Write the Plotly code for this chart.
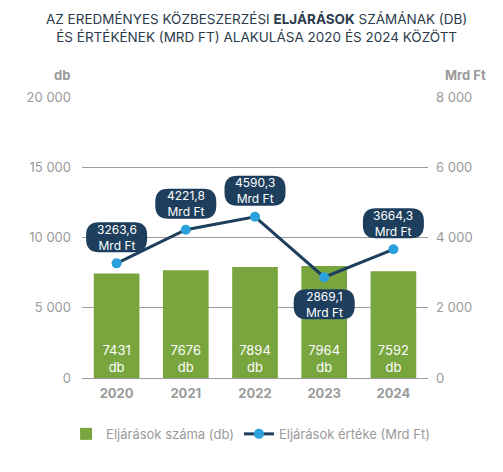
import plotly.graph_objects as go

years = [2020, 2021, 2022, 2023, 2024]
counts = [7431, 7676, 7894, 7964, 7592]
values = [3263.6, 4221.8, 4590.3, 2869.1, 3664.3]
label_side = ["above", "above", "above", "below", "above"]

navy = "#1d3e5c"
green = "#78a53e"
blue = "#2aa0dc"
grey = "#9a9a9a"
font = "Inter, Roboto, Arial, sans-serif"


def pill(w, h, r, cy):
    # rounded rectangle in pixels, centred horizontally, vertical centre at cy
    x0, x1 = -w / 2, w / 2
    y0, y1 = cy - h / 2, cy + h / 2
    return (
        f"M{x0 + r},{y0} L{x1 - r},{y0} Q{x1},{y0} {x1},{y0 + r} "
        f"L{x1},{y1 - r} Q{x1},{y1} {x1 - r},{y1} L{x0 + r},{y1} "
        f"Q{x0},{y1} {x0},{y1 - r} L{x0},{y0 + r} Q{x0},{y0} {x0 + r},{y0} Z"
    )


fig = go.Figure()

fig.add_trace(go.Bar(
    x=years, y=counts, name="Eljárások száma (db)",
    marker=dict(color=green, line=dict(width=0)),
    width=0.66,
    text=[f"{c}<br>db" for c in counts],
    textposition="inside", insidetextanchor="start",
    textfont=dict(color="white", size=13, family=font),
    hoverinfo="skip",
))

fig.add_trace(go.Scatter(
    x=years, y=values, yaxis="y2", name="Eljárások értéke (Mrd Ft)",
    mode="lines+markers",
    line=dict(color=navy, width=3),
    marker=dict(color=blue, size=10, line=dict(width=0)),
))

shapes = []
annotations = []
for yr, v, side in zip(years, values, label_side):
    off = 26 if side == "above" else -27
    shapes.append(dict(
        type="path", xref="x", yref="y2",
        xsizemode="pixel", ysizemode="pixel",
        xanchor=yr, yanchor=v,
        path=pill(61, 30, 13, off),
        fillcolor=navy, line=dict(width=0), layer="above",
    ))
    annotations.append(dict(
        x=yr, y=v, xref="x", yref="y2", yshift=off,
        text=f"{v:.1f}".replace(".", ",") + "<br>Mrd Ft",
        showarrow=False, align="center",
        font=dict(color="white", size=12, family=font),
    ))

# axis unit labels
annotations.append(dict(
    x=-0.058, y=1.078, xref="paper", yref="paper", text="<b>db</b>",
    xanchor="center", yanchor="middle",
    showarrow=False, font=dict(color=grey, size=13, family=font),
))
annotations.append(dict(
    x=1.107, y=1.078, xref="paper", yref="paper", text="<b>Mrd Ft</b>",
    xanchor="center", yanchor="middle",
    showarrow=False, font=dict(color=grey, size=13, family=font),
))

# title, two lines
annotations.append(dict(
    x=0.504, y=1.2456, xref="paper", yref="paper",
    xanchor="center", yanchor="middle", align="center", showarrow=False,
    text="AZ EREDMÉNYES KÖZBESZERZÉSI <b>ELJÁRÁSOK</b> SZÁMÁNAK (DB)"
         "<br>ÉS ÉRTÉKÉNEK (MRD FT) ALAKULÁSA 2020 ÉS 2024 KÖZÖTT",
    font=dict(color="#2c3b4c", size=13.5, family=font),
))

fig.update_layout(
    width=503, height=472,
    margin=dict(l=82, r=75, t=97, b=94, autoexpand=False),
    plot_bgcolor="white", paper_bgcolor="white",
    separators=", ",
    xaxis=dict(
        range=[2019.5, 2024.5], tickvals=years, ticktext=[str(y) for y in years],
        showgrid=False, showline=False, zeroline=False, ticks="",
        ticklabelstandoff=6,
        tickfont=dict(color=grey, size=13, family=font, weight="bold"),
    ),
    yaxis=dict(
        range=[0, 20000], dtick=5000, tickformat=",d",
        showgrid=True, gridcolor="#9c9c9c", gridwidth=1,
        zeroline=True, zerolinecolor="#9c9c9c", zerolinewidth=1,
        showline=False, ticks="", ticklabelstandoff=10,
        tickfont=dict(color=grey, size=13, family=font),
    ),
    yaxis2=dict(
        range=[0, 8000], dtick=2000, tickformat=",d", overlaying="y", side="right",
        showgrid=False, zeroline=False, showline=False, ticks="",
        ticklabelstandoff=7,
        tickfont=dict(color=grey, size=13, family=font),
    ),
    legend=dict(
        orientation="h", x=-0.046, xanchor="left", y=-0.199, yanchor="middle",
        font=dict(color=grey, size=13, family=font),
    ),
    shapes=shapes,
    annotations=annotations,
    hovermode=False,
)

fig.write_html(
    "out.html",
    config={"displayModeBar": False},
    post_script="document.body.style.margin='0';",
)
